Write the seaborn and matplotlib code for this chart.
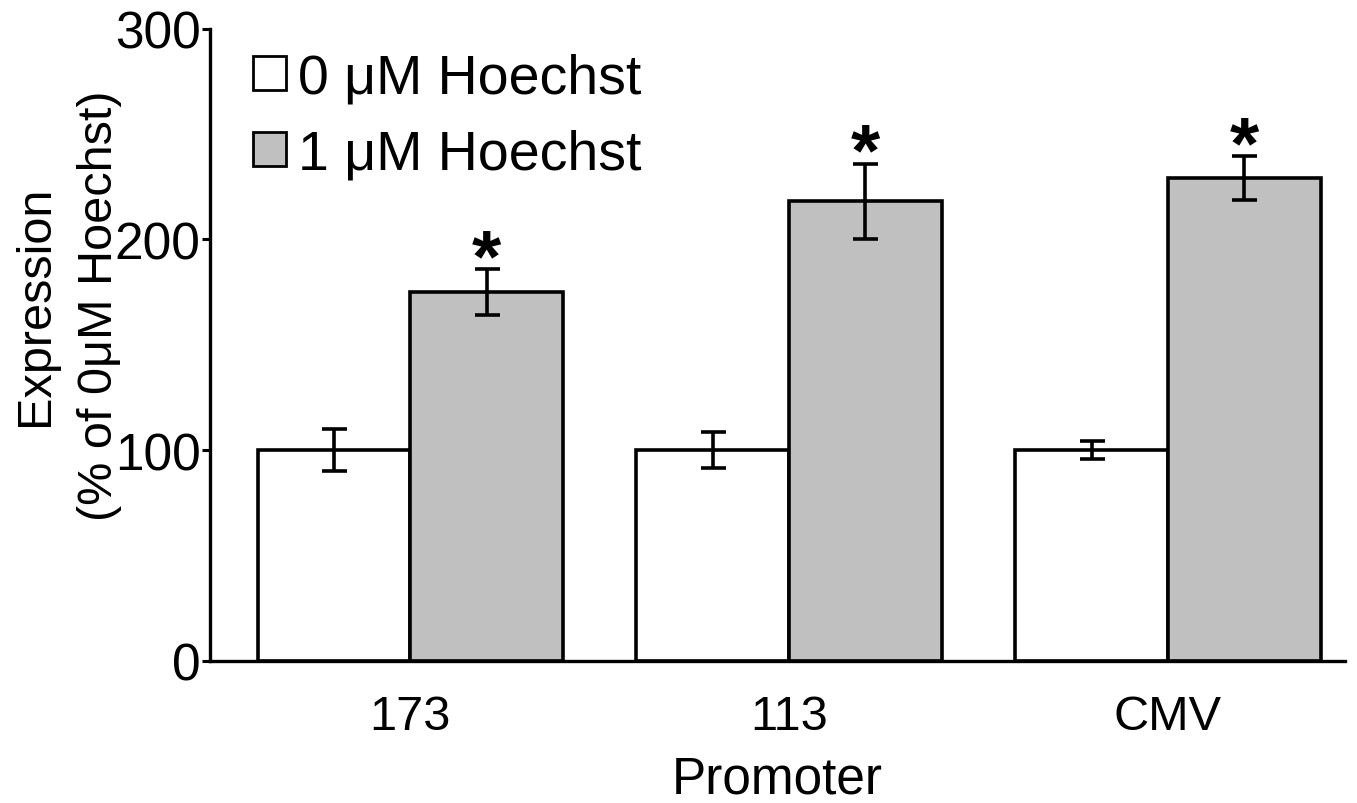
import matplotlib
matplotlib.use("Agg")
import matplotlib.pyplot as plt
import seaborn as sns
import pandas as pd
from matplotlib.patches import Patch

# Expression data, normalised to the 0 µM Hoechst condition
promoters = ["173", "113", "CMV"]
conditions = ["0 \u03bcM Hoechst", "1 \u03bcM Hoechst"]
expr_0uM = [100, 100, 100]
expr_1uM = [175, 218, 229]
err_0uM = [10, 8.5, 4.3]
err_1uM = [11, 18, 10.5]
significant_1uM = [True, True, True]

df = pd.DataFrame({
    "Promoter": promoters * 2,
    "Condition": [conditions[0]] * 3 + [conditions[1]] * 3,
    "Expression": expr_0uM + expr_1uM,
})

sns.set_theme(style="white")
plt.rcParams["font.family"] = ["Liberation Sans", "DejaVu Sans"]
for key in ["text.color", "axes.labelcolor", "xtick.color", "ytick.color"]:
    plt.rcParams[key] = "black"

fig = plt.figure(figsize=(13.57, 8.04), dpi=100)
ax = fig.add_axes([0.155, 0.177, 0.836, 0.786])

palette = {conditions[0]: "white", conditions[1]: "#c0c0c0"}
sns.barplot(data=df, x="Promoter", y="Expression", hue="Condition",
            order=promoters, hue_order=conditions, palette=palette,
            edgecolor="black", linewidth=2.6, width=0.806, errorbar=None,
            legend=False, ax=ax)

# Error bars and significance marks at each bar centre
errs = {conditions[0]: err_0uM, conditions[1]: err_1uM}
vals = {conditions[0]: expr_0uM, conditions[1]: expr_1uM}
for ci, cond in enumerate(conditions):
    for pi, p in enumerate(promoters):
        patch = ax.patches[ci * len(promoters) + pi]
        xc = patch.get_x() + patch.get_width() / 2
        ax.errorbar(xc, vals[cond][pi], yerr=errs[cond][pi], fmt="none",
                    ecolor="black", elinewidth=2.6, capsize=9, capthick=2.6)
        if cond == conditions[1] and significant_1uM[pi]:
            ax.annotate("*", xy=(xc, vals[cond][pi] + errs[cond][pi]),
                        xytext=(0, -8), textcoords="offset points",
                        ha="center", va="baseline", fontsize=54,
                        fontweight="bold")

ax.set_ylim(0, 300)
ax.set_xlim(-0.528, 2.467)
ax.set_yticks([0, 100, 200, 300])
ax.tick_params(axis="y", direction="out", length=6, width=2.2, labelsize=37,
               left=True, pad=1)
ax.tick_params(axis="x", length=0, labelsize=35, pad=24)
sns.despine(ax=ax)
for s in ["left", "bottom"]:
    ax.spines[s].set_linewidth(2.4)
    ax.spines[s].set_color("black")

ax.set_xlabel("Promoter", fontsize=37, labelpad=11)
ax.set_ylabel("Expression\n(% of 0\u03bcM Hoechst)", fontsize=35,
              linespacing=1.55)
ax.yaxis.set_label_coords(-0.0775, 0.563)

handles = [Patch(facecolor=palette[c], edgecolor="black", linewidth=2.0)
           for c in conditions]
ax.legend(handles, conditions, loc="upper left", bbox_to_anchor=(0.038, 0.962),
          frameon=False, fontsize=40, handlelength=0.58, handleheight=0.55,
          handletextpad=0.23, labelspacing=0.43, borderaxespad=0, borderpad=0)

fig.savefig("out.png", dpi=100, facecolor="white")
